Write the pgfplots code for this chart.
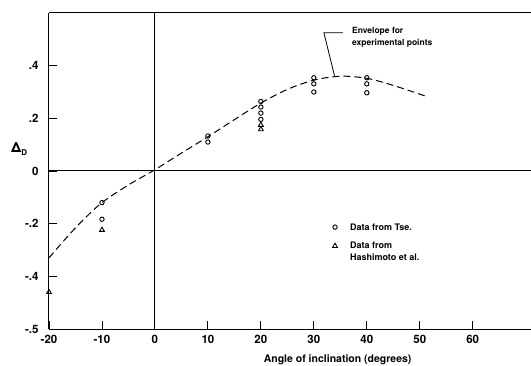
\documentclass[border=0pt]{standalone}
\usepackage{fontspec}
\setmainfont{TeX Gyre Heros}
\usepackage{pgfplots}
\pgfplotsset{compat=1.18}
\begin{document}
\begin{tikzpicture}
\path[use as bounding box] (-49pt,-36pt) rectangle (482pt,329pt);
\begin{axis}[
  scale only axis, width=482pt, height=316pt,
  xmin=-20, xmax=71, ymin=-0.6, ymax=0.6,
  axis x line*=bottom, axis y line*=left,
  axis line style={line width=1pt, -},
  tick align=inside, major tick length=8pt,
  tick style={line width=0.9pt, black},
  xtick={-20,-10,0,10,20,30,40,50,60},
  xticklabels={-20,-10,0,10,20,30,40,50,60},
  ytick={-0.6,-0.4,-0.2,0,0.2,0.4},
  yticklabels={-.5,-.4,-.2,0,.2,.4},
  ticklabel style={font=\bfseries\fontsize{11.5}{13}\selectfont},
  xticklabel style={yshift=-3pt},
  yticklabel style={xshift=-7pt},
  clip=false,
]
\draw[line width=1pt] (rel axis cs:0,1) -- (rel axis cs:1,1);
\draw[line width=1pt] (axis cs:0,-0.6) -- (axis cs:0,0.6);
\draw[line width=1pt] (axis cs:-20,0) -- (axis cs:71,0);
% envelope
\addplot[smooth, line width=1pt, dash pattern=on 7pt off 4pt] coordinates {
(-20,-0.33) (-17,-0.26) (-14,-0.195) (-10,-0.12) (-5,-0.053) (0,0.005)
(5,0.068) (10,0.13) (15,0.195) (20,0.258) (25,0.31) (30,0.345) (35,0.36)
(40,0.352) (45,0.325) (51,0.285)};
% Tse data
\addplot[only marks, mark=o, mark size=2.2pt, mark options={line width=0.9pt}] coordinates {
(-10,-0.12) (-10,-0.183)
(10,0.133) (10,0.110)
(20,0.264) (20,0.243) (20,0.220) (20,0.196)
(30,0.354) (30,0.331) (30,0.300)
(40,0.354) (40,0.331) (40,0.297)};
% Hashimoto data
\addplot[only marks, mark=triangle, mark size=2.8pt, mark options={line width=0.9pt}] coordinates {
(-10,-0.224) (-20,-0.46) (20,0.175) (20,0.158)};
% legend marks
\addplot[only marks, mark=o, mark size=2.2pt, mark options={line width=0.9pt}] coordinates {(34,-0.213)};
\addplot[only marks, mark=triangle, mark size=2.8pt, mark options={line width=0.9pt}] coordinates {(34,-0.285)};
\node[anchor=west, font=\bfseries\fontsize{9}{11}\selectfont, inner sep=0pt] at (axis cs:36.8,-0.213) {Data from Tse.};
\node[anchor=north west, align=left, font=\bfseries\fontsize{9}{12}\selectfont, inner sep=0pt] at (axis cs:36.8,-0.27) {Data from\\Hashimoto et al.};
% annotation
\draw[line width=0.8pt] (axis cs:33.9,0.362) -- (axis cs:31.9,0.525) -- (axis cs:35.5,0.525);
\node[anchor=north west, align=left, font=\bfseries\fontsize{8.5}{12}\selectfont, inner sep=0pt] at (axis cs:37.2,0.547) {Envelope for\\experimental points};
% labels
\node[font=\bfseries\fontsize{10.5}{12}\selectfont] at (axis cs:34.5,-0.6) [yshift=-31pt] {Angle of inclination (degrees)};
\node[font=\bfseries\fontsize{14}{16}\selectfont, inner sep=0pt, anchor=west] at (rel axis cs:0,0.5) [xshift=-38pt,yshift=22pt] {Δ\raisebox{-0.5ex}{\fontsize{8}{9}\selectfont D}};
\end{axis}
\end{tikzpicture}
\end{document}
